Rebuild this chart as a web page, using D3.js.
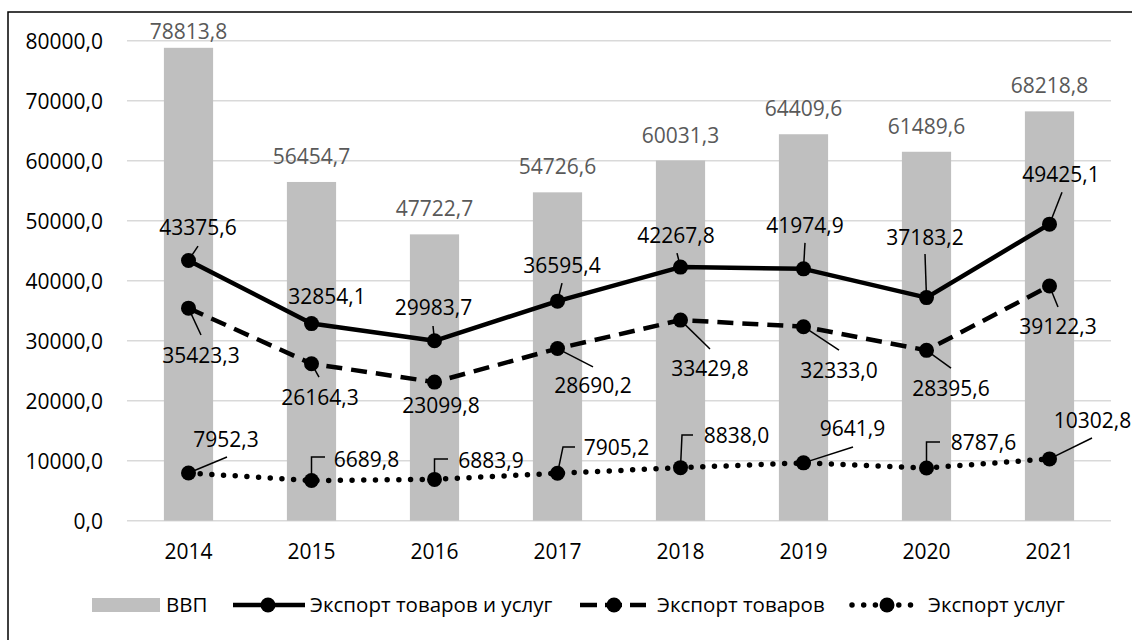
<!DOCTYPE html>
<html>
<head>
<meta charset="utf-8">
<script src="https://cdn.jsdelivr.net/npm/d3@7"></script>
<style>
  html, body { margin: 0; padding: 0; background: #fff; }
  svg { display: block; }
  text { font-family: "Open Sans", "Noto Sans", sans-serif; }
</style>
</head>
<body>
<svg id="chart" width="1132" height="640"></svg>
<script>
// ---- data ----
const years = ["2014", "2015", "2016", "2017", "2018", "2019", "2020", "2021"];
const gdp = [78813.8, 56454.7, 47722.7, 54726.6, 60031.3, 64409.6, 61489.6, 68218.8];
const exportTotal = [43375.6, 32854.1, 29983.7, 36595.4, 42267.8, 41974.9, 37183.2, 49425.1];
const exportGoods = [35423.3, 26164.3, 23099.8, 28690.2, 33429.8, 32333.0, 28395.6, 39122.3];
const exportServices = [7952.3, 6689.8, 6883.9, 7905.2, 8838.0, 9641.9, 8787.6, 10302.8];
const yTicks = [0, 10000, 20000, 30000, 40000, 50000, 60000, 70000, 80000];
const seriesNames = ["ВВП", "Экспорт товаров и услуг", "Экспорт товаров", "Экспорт услуг"];

// ---- label layout (offsets from the data point: label centre/baseline, leader polyline) ----
const layoutTotal = [
  {dx: 9.5, dy: -25.4, lead: [[9.5, -14.4], [0, 0]]},
  {dx: 15.5, dy: -19.6, lead: null},
  {dx: -1, dy: -25.8, lead: [[-1.5, -14.8], [0, 0]]},
  {dx: 4.5, dy: -28, lead: [[4.5, -18], [0, 0]]},
  {dx: -4.5, dy: -24, lead: [[-3.5, -14], [0, 0]]},
  {dx: 1.5, dy: -36, lead: [[1.5, -26], [0, 0]]},
  {dx: -1.5, dy: -52.6, lead: [[-1.5, -43.6], [0, 0]]},
  {dx: 11.5, dy: -42, lead: [[12.5, -32], [0, 0]]}
];
const layoutGoods = [
  {dx: 12.5, dy: 54.8, lead: [[12.5, 26.8], [0, 0]]},
  {dx: 8.5, dy: 41.3, lead: [[7.5, 13.3], [0, 0]]},
  {dx: 6.5, dy: 30.9, lead: null},
  {dx: 35.5, dy: 44.4, lead: [[35.5, 18.4], [0, 0]]},
  {dx: 29.5, dy: 55.9, lead: [[29.5, 28.9], [0, 0]]},
  {dx: 35.5, dy: 51.3, lead: [[35.5, 23.3], [0, 0]]},
  {dx: 24.5, dy: 45.7, lead: [[24.5, 17.7], [0, 0]]},
  {dx: 8.5, dy: 48, lead: [[8.5, 21], [0, 0]]}
];
const layoutServices = [
  {dx: 37.5, dy: -26, lead: [[38.5, -16], [0, 0]]},
  {dx: 55, dy: -13.6, lead: [[13.5, -23.6], [0, -23.6], [0, 0]]},
  {dx: 56.5, dy: -11.4, lead: [[13.5, -20.4], [0, -20.4], [0, 0]]},
  {dx: 59, dy: -18.3, lead: [[17.5, -26.3], [5.5, -26.3], [0, 0]]},
  {dx: 56, dy: -24.7, lead: [[12.5, -32.7], [1.5, -32.7], [0, 0]]},
  {dx: 49, dy: -26.9, lead: [[49.5, -15.9], [0, 0]]},
  {dx: 57, dy: -18, lead: [[13.5, -26], [0, -26], [0, 0]]},
  {dx: 43, dy: -30.9, lead: [[42.5, -20.9], [0, 0]]}
];

const loc = d3.formatLocale({decimal: ",", thousands: "", grouping: [3], currency: ["", ""]});
const fmt = loc.format(".1f");

const FS = 21;
const svg = d3.select("#chart");
const plotLeft = 127, plotRight = 1111, plotTop = 40.7, plotBottom = 520.7;

// frame
svg.append("rect").attr("x", 8).attr("y", 12).attr("width", 1140).attr("height", 640)
  .attr("fill", "none").attr("stroke", "#000").attr("stroke-width", 1.5);

const x = d3.scaleBand().domain(years).range([plotLeft, plotRight]).paddingInner(0.6).paddingOuter(0.3);
const y = d3.scaleLinear().domain([0, 80000]).range([plotBottom, plotTop]);
const cx = d => x(d) + x.bandwidth() / 2;

// gridlines
svg.append("g").selectAll("line").data(yTicks).join("line")
  .attr("x1", plotLeft).attr("x2", plotRight)
  .attr("y1", d => y(d)).attr("y2", d => y(d))
  .attr("stroke", "#d9d9d9").attr("stroke-width", 1.5);

// y axis labels
const yAxis = d3.axisLeft(y).tickValues(yTicks).tickFormat(fmt).tickSize(0).tickPadding(0);
const gy = svg.append("g").attr("transform", "translate(103,0)").call(yAxis);
gy.select(".domain").remove();
gy.selectAll("text").attr("font-size", FS).attr("fill", "#000")
  .attr("font-family", "'Open Sans', sans-serif").attr("dy", "0.36em");

// x axis labels
const xAxis = d3.axisBottom(x).tickSize(0).tickPadding(0);
const gx = svg.append("g").attr("transform", "translate(0,540)").call(xAxis);
gx.select(".domain").remove();
gx.selectAll("text").attr("font-size", FS).attr("fill", "#000")
  .attr("font-family", "'Open Sans', sans-serif").attr("dy", "0.9em");

// bars
svg.append("g").selectAll("rect").data(years).join("rect")
  .attr("x", d => x(d)).attr("width", x.bandwidth())
  .attr("y", (d, i) => y(gdp[i])).attr("height", (d, i) => plotBottom - y(gdp[i]))
  .attr("fill", "#bfbfbf");

// gdp labels
svg.append("g").selectAll("text").data(years).join("text")
  .attr("x", d => cx(d))
  .attr("y", (d, i) => Math.max(y(gdp[i]) - 18, 39))
  .attr("text-anchor", "middle").attr("font-size", FS).attr("fill", "#595959")
  .text((d, i) => fmt(gdp[i]));

const line = d3.line().x((d, i) => cx(years[i])).y(d => y(d));

function drawSeries(values, style, layout) {
  const g = svg.append("g");
  const p = g.append("path").datum(values).attr("d", line)
    .attr("fill", "none").attr("stroke", "#000");
  if (style === "solid") p.attr("stroke-width", 4.5).attr("stroke-linejoin", "round");
  if (style === "dash") p.attr("stroke-width", 4.5).attr("stroke-dasharray", "16,9");
  if (style === "dot") p.attr("stroke-width", 5.5).attr("stroke-dasharray", "0,11.7").attr("stroke-linecap", "round");
  values.forEach((v, i) => {
    const L = layout[i];
    if (!L.lead) return;
    const px = cx(years[i]), py = y(v);
    g.append("polyline")
      .attr("points", L.lead.map(q => [px + q[0], py + q[1]].join(",")).join(" "))
      .attr("fill", "none").attr("stroke", "#000").attr("stroke-width", 1.5);
  });
  g.selectAll("circle").data(values).join("circle")
    .attr("cx", (d, i) => cx(years[i])).attr("cy", d => y(d)).attr("r", 7.5).attr("fill", "#000");
  g.selectAll("text").data(values).join("text")
    .attr("x", (d, i) => cx(years[i]) + layout[i].dx)
    .attr("y", (d, i) => y(d) + layout[i].dy)
    .attr("text-anchor", "middle").attr("font-size", FS).attr("fill", "#000")
    .text(d => fmt(d));
}
drawSeries(exportTotal, "solid", layoutTotal);
drawSeries(exportGoods, "dash", layoutGoods);
drawSeries(exportServices, "dot", layoutServices);

// legend
const lg = svg.append("g");
const ly = 605;
const LFS = 20.5;
lg.append("rect").attr("x", 92).attr("y", 598).attr("width", 68).attr("height", 14).attr("fill", "#bfbfbf");
lg.append("text").attr("x", 166).attr("y", ly).attr("dy", "0.36em").attr("font-size", LFS).attr("fill", "#000").text(seriesNames[0]);

lg.append("line").attr("x1", 233).attr("x2", 305).attr("y1", ly).attr("y2", ly)
  .attr("stroke", "#000").attr("stroke-width", 4.5);
lg.append("circle").attr("cx", 268).attr("cy", ly).attr("r", 7.5).attr("fill", "#000");
lg.append("text").attr("x", 310).attr("y", ly).attr("dy", "0.36em").attr("font-size", LFS).attr("fill", "#000").text(seriesNames[1]);

lg.append("line").attr("x1", 580).attr("x2", 646).attr("y1", ly).attr("y2", ly)
  .attr("stroke", "#000").attr("stroke-width", 4.5).attr("stroke-dasharray", "17,8");
lg.append("circle").attr("cx", 614).attr("cy", ly).attr("r", 7.5).attr("fill", "#000");
lg.append("text").attr("x", 657).attr("y", ly).attr("dy", "0.36em").attr("font-size", LFS).attr("fill", "#000").text(seriesNames[2]);

lg.append("line").attr("x1", 852).attr("x2", 916).attr("y1", ly).attr("y2", ly)
  .attr("stroke", "#000").attr("stroke-width", 5.5).attr("stroke-dasharray", "0,11.7").attr("stroke-linecap", "round");
lg.append("circle").attr("cx", 887).attr("cy", ly).attr("r", 7.5).attr("fill", "#000");
lg.append("text").attr("x", 928).attr("y", ly).attr("dy", "0.36em").attr("font-size", LFS).attr("fill", "#000").text(seriesNames[3]);
</script>
</body>
</html>
